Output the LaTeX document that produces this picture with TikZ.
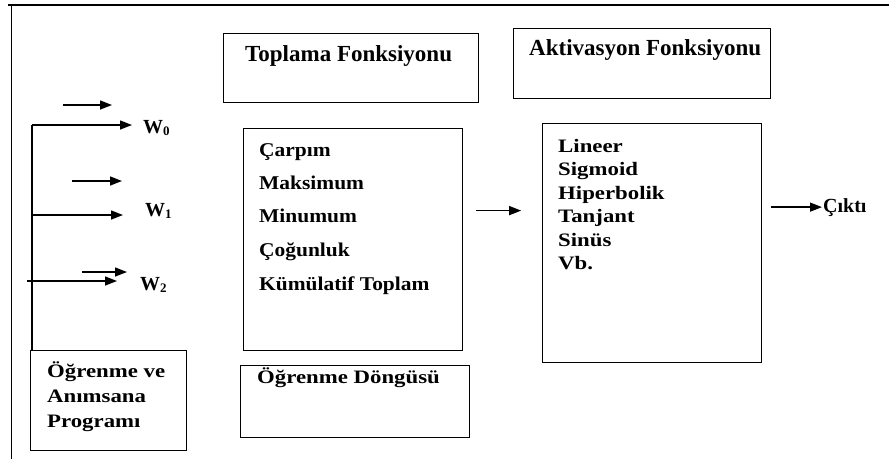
\documentclass[tikz,border=0pt]{standalone}
\usepackage{fontspec}
\setmainfont{Liberation Serif}
\newfontfamily\listfont[FakeStretch=1.1]{Liberation Serif}
\newfontfamily\widefont[FakeStretch=1.2]{Liberation Serif}
\usetikzlibrary{arrows.meta}

\begin{document}
\begin{tikzpicture}[x=1pt,y=-1pt,
  box/.style={draw, line width=1.2pt, anchor=north west, inner sep=0pt},
  lbl/.style={anchor=base west, inner sep=0pt},
  titletext/.style={lbl, font=\fontsize{23}{23}\selectfont\bfseries},
  sumitem/.style={lbl, font=\listfont\fontsize{19.5}{19.5}\selectfont\bfseries},
  wideitem/.style={lbl, font=\widefont\fontsize{19}{19}\selectfont\bfseries},
  wlabel/.style={lbl, font=\fontsize{20}{20}\selectfont\bfseries},
  wire/.style={line width=1.4pt},
  arr/.style={wire, -{Triangle[length=12pt,width=9pt]}},
]
\useasboundingbox (0,0) rectangle (889,459);

% page frame (top and left rules)
\draw[line width=2.5pt] (8,5) -- (889,5);
\draw[line width=1.8pt] (11.5,4) -- (11.5,459);

% boxes
\node[box, minimum width=255, minimum height=69]  (sumtitle) at (223,33)  {};
\node[box, minimum width=257, minimum height=70]  (acttitle) at (513,28)  {};
\node[box, minimum width=219, minimum height=222] (sum)      at (243,128) {};
\node[box, minimum width=229, minimum height=72]  (loop)     at (240,365) {};
\node[box, minimum width=219, minimum height=239] (act)      at (542,123) {};
\node[box, minimum width=156, minimum height=100] (learn)    at (30,350)  {};

% titles
\node[titletext] (sumtitletext) at (245,61) {Toplama Fonksiyonu};
\node[titletext] (acttitletext) at (529,55) {Aktivasyon Fonksiyonu};

% summation functions
\foreach \t/\y [count=\i] in {Çarpım/156, Maksimum/189, Minumum/222, Çoğunluk/256, Kümülatif Toplam/290}
  \node[sumitem] (sumitem\i) at (259,\y) {\t};

% activation functions
\foreach \t/\y [count=\i] in {Lineer/152, Sigmoid/175.5, Hiperbolik/199, Tanjant/222.5, Sinüs/246, Vb./269.5}
  \node[wideitem] (actitem\i) at (558,\y) {\t};

% learning loop
\node[wideitem] (looptext) at (257,383) {Öğrenme Döngüsü};

% learning and recall program
\node[wideitem] (learn1) at (47,377) {Öğrenme ve};
\node[wideitem] (learn2) at (47,402) {Anımsana};
\node[wideitem] (learn3) at (47,427) {Programı};

% weights
\node[wlabel] (w0) at (143,133) {W\raisebox{-2.5pt}{\fontsize{13}{13}\selectfont 0}};
\node[wlabel] (w1) at (145,216) {W\raisebox{-2.5pt}{\fontsize{13}{13}\selectfont 1}};
\node[wlabel] (w2) at (140,290) {W\raisebox{-2.5pt}{\fontsize{13}{13}\selectfont 2}};

% output
\node[lbl, font=\fontsize{20}{20}\selectfont\bfseries, inner sep=1pt] (out) at (822,212) {Çıktı};

% input arrows
\coordinate (b0) at (32,125);
\coordinate (b1) at (32,215);
\coordinate (b2) at (27,281);
\coordinate (t0) at (132,125);
\coordinate (t1) at (123,215);
\coordinate (t2) at (117,281);
\coordinate (f0s) at (63,105);
\coordinate (f0e) at (112,105);
\coordinate (f1s) at (72,181);
\coordinate (f1e) at (122,181);
\coordinate (f2s) at (82,272);
\coordinate (f2e) at (127,272);

\draw[wire] (b0) -- (b0 |- learn.north);
\draw[arr] (b0) -- (t0);
\draw[arr] (b1) -- (t1);
\draw[arr] (b2) -- (t2);
\draw[arr] (f0s) -- (f0e);
\draw[arr] (f1s) -- (f1e);
\draw[arr] (f2s) -- (f2e);

% summation to activation, activation to output
\draw[arr] ([shift={(13,-29)}]sum.east) -- ++(45,0);
\draw[arr] (out.west) ++(-51,0) -- (out.west);
\end{tikzpicture}
\end{document}
